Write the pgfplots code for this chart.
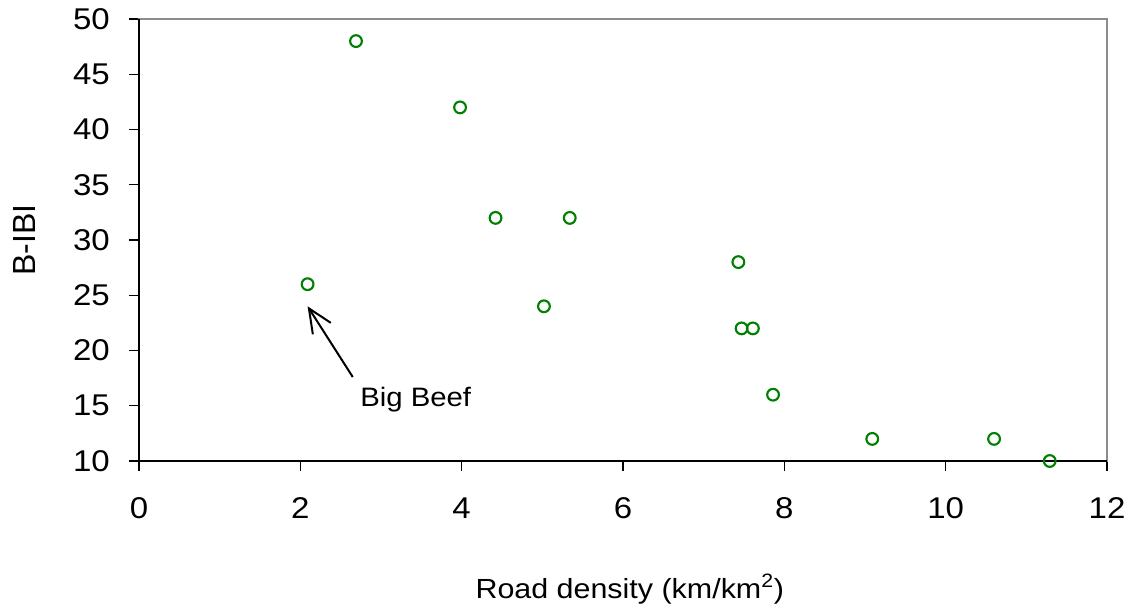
\documentclass[border=0pt]{standalone}
\usepackage{pgfplots}
\pgfplotsset{compat=1.18}
\usepackage{fontspec}
\setmainfont{Liberation Sans}[FakeStretch=1.1]
\newfontfamily\plainfont{Liberation Sans}
\usetikzlibrary{arrows.meta}
\definecolor{mkgreen}{RGB}{0,128,0}
\begin{document}
\begin{tikzpicture}[font=\fontsize{22.5}{27}\selectfont]
\begin{axis}[
  at={(0,0)}, anchor=south west,
  scale only axis, width=726pt, height=331.5pt,
  xmin=0, xmax=12, ymin=10, ymax=50,
  xtick={0,2,...,12}, ytick={10,15,...,50},
  tick align=outside, xtick pos=bottom, ytick pos=left,
  major tick length=7.5pt,
  every tick/.style={black, line width=1.1pt},
  axis line style={draw=black!45, line width=1pt},
  /pgf/number format/assume math mode=true,
  tick label style={font=\fontsize{22.5}{27}\selectfont},
  xticklabel style={anchor=base, yshift=-35.25pt, inner sep=0pt},
  yticklabel style={anchor=east, xshift=-14.25pt, inner sep=0pt},
  xlabel={Road density (km/km\textsuperscript{2})},
  ylabel={B-IBI},
  xlabel style={at={(axis description cs:0.507,-0.310)}, anchor=base, font=\fontsize{20.75}{25}\selectfont},
  ylabel style={at={(axis description cs:-0.1178,0.5)}, anchor=center, font=\plainfont\fontsize{24}{28}\selectfont},
  clip=false,
]
\draw[black, line width=1.5pt] (rel axis cs:0,1) -- (rel axis cs:0,0) -- (rel axis cs:1,0);
\addplot[only marks, mark=o, mark size=4.4pt, mkgreen, mark options={line width=1.6pt}] coordinates {
(2.69,48) (3.98,42) (4.42,32) (5.34,32) (2.09,26) (5.02,24) (7.43,28)
(7.47,22) (7.61,22) (7.86,16) (9.09,12) (10.60,12) (11.29,10)
};
\draw[black, line width=1.5pt, -{Straight Barb[length=18pt, width=16pt, line width=1.5pt]}] (axis cs:2.65,17.6) -- (axis cs:2.09,24.0);
\node[anchor=base west, inner sep=0pt, font=\fontsize{20}{24}\selectfont] at (axis cs:2.74,14.89) {Big Beef};
\end{axis}
\pgfresetboundingbox
\useasboundingbox (-104.25pt,-111.75pt) rectangle (748.5pt,345.75pt);
\end{tikzpicture}
\end{document}
